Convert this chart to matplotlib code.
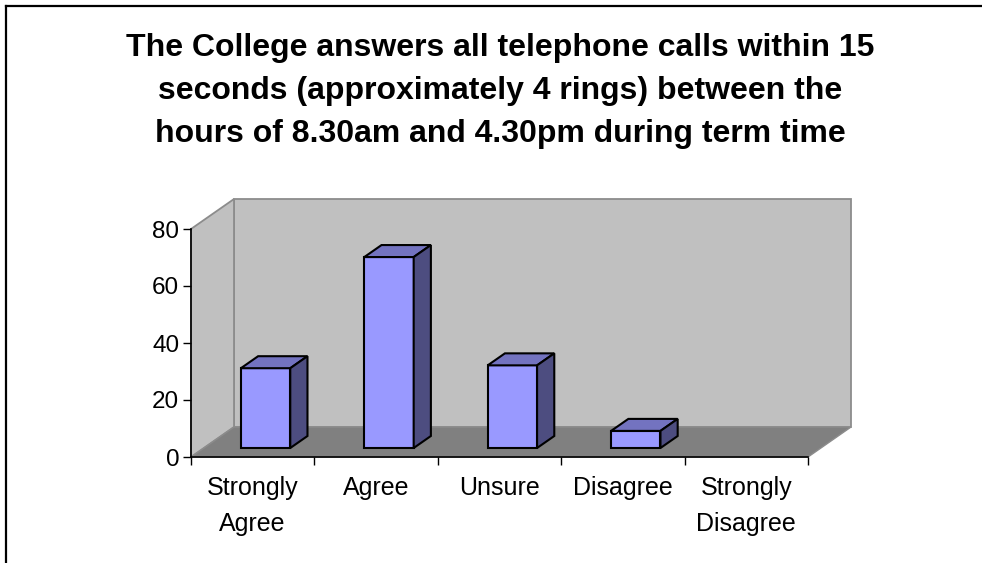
import matplotlib
matplotlib.use("Agg")
import matplotlib.pyplot as plt
from matplotlib.patches import Polygon
from matplotlib.lines import Line2D

categories = ["Strongly\nAgree", "Agree", "Unsure", "Disagree", "Strongly\nDisagree"]
values = [28, 67, 29, 6, 0]
yticks = [0, 20, 40, 60, 80]
title_lines = ["The College answers all telephone calls within 15",
               "seconds (approximately 4 rings) between the",
               "hours of 8.30am and 4.30pm during term time"]

plt.rcParams['font.family'] = ['Liberation Sans', 'DejaVu Sans']

W, H = 982, 563
fig = plt.figure(figsize=(W / 100, H / 100), dpi=100)
fig.patch.set_facecolor('white')

# axes: front plane of the 3-D box
x_left, x_right, y_bot, y_top = 191, 808, 457, 229
ax = fig.add_axes([x_left / W, (H - y_bot) / H, (x_right - x_left) / W, (y_bot - y_top) / H])
n = len(categories)
ymax = yticks[-1]
ax.set_xlim(0, n)
ax.set_ylim(0, ymax)
ax.set_facecolor('none')

# oblique depth offset (pixels -> data units)
DX = 43 * n / (x_right - x_left)
DY = 30 * ymax / (y_bot - y_top)

wall_col = '#C0C0C0'
floor_col = '#808080'
edge_col = '#8C8C8C'

# back wall
ax.add_patch(Polygon([(DX, DY), (n + DX, DY), (n + DX, ymax + DY), (DX, ymax + DY)],
                     closed=True, facecolor=wall_col, edgecolor=edge_col, lw=1.3,
                     clip_on=False, zorder=1))
# left wall
ax.add_patch(Polygon([(0, 0), (DX, DY), (DX, ymax + DY), (0, ymax)],
                     closed=True, facecolor=wall_col, edgecolor=edge_col, lw=1.3,
                     clip_on=False, zorder=1))
# floor
ax.add_patch(Polygon([(0, 0), (n, 0), (n + DX, DY), (DX, DY)],
                     closed=True, facecolor=floor_col, edgecolor=edge_col, lw=1.0,
                     clip_on=False, zorder=1.5))

front_col = '#9999FF'
top_col = '#7373C0'
side_col = '#4D4D80'
d0, d1 = 0.3, 0.7
bw0, bw1 = 0.3, 0.7
for i, v in enumerate(values):
    if v <= 0:
        continue
    x0, x1 = i + bw0, i + bw1
    front = [(x0 + d0 * DX, d0 * DY), (x1 + d0 * DX, d0 * DY),
             (x1 + d0 * DX, v + d0 * DY), (x0 + d0 * DX, v + d0 * DY)]
    top = [(x0 + d0 * DX, v + d0 * DY), (x1 + d0 * DX, v + d0 * DY),
           (x1 + d1 * DX, v + d1 * DY), (x0 + d1 * DX, v + d1 * DY)]
    side = [(x1 + d0 * DX, d0 * DY), (x1 + d1 * DX, d1 * DY),
            (x1 + d1 * DX, v + d1 * DY), (x1 + d0 * DX, v + d0 * DY)]
    for poly, c in ((front, front_col), (top, top_col), (side, side_col)):
        ax.add_patch(Polygon(poly, closed=True, facecolor=c, edgecolor='black',
                             lw=1.5, joinstyle='miter', clip_on=False, zorder=3))

# axes spines / ticks
for s in ('top', 'right'):
    ax.spines[s].set_visible(False)
for s in ('left', 'bottom'):
    ax.spines[s].set_color('black')
    ax.spines[s].set_linewidth(1.2)
    ax.spines[s].set_zorder(4)

ax.set_yticks(yticks)
ax.set_yticklabels([str(t) for t in yticks])
ax.tick_params(axis='y', direction='out', length=5.5, width=1.0, color='black',
               labelsize=17.5, pad=3)
ax.set_xticks(range(n + 1))
ax.set_xticklabels([])
ax.tick_params(axis='x', which='major', direction='out', length=5.5, width=1.0, color='black')
ax.set_xticks([i + 0.5 for i in range(n)], minor=True)
ax.set_xticklabels(categories, minor=True)
ax.tick_params(axis='x', which='minor', length=0, labelsize=18, pad=14)
for lab in ax.get_xticklabels(minor=True):
    lab.set_linespacing(1.6)

# title
for k, line in enumerate(title_lines):
    fig.text(500 / W, (H - (56 + 43 * k)) / H, line, ha='center', va='baseline',
             fontsize=23, fontweight='bold')

# outer frame (left and top edges visible)
fig.add_artist(Line2D([5.5 / W, 5.5 / W], [0, (H - 5.5) / H], transform=fig.transFigure,
                      color='black', lw=1.6))
fig.add_artist(Line2D([5.5 / W, 1], [(H - 5.5) / H, (H - 5.5) / H], transform=fig.transFigure,
                      color='black', lw=1.6))

fig.savefig('out.png', dpi=100)
